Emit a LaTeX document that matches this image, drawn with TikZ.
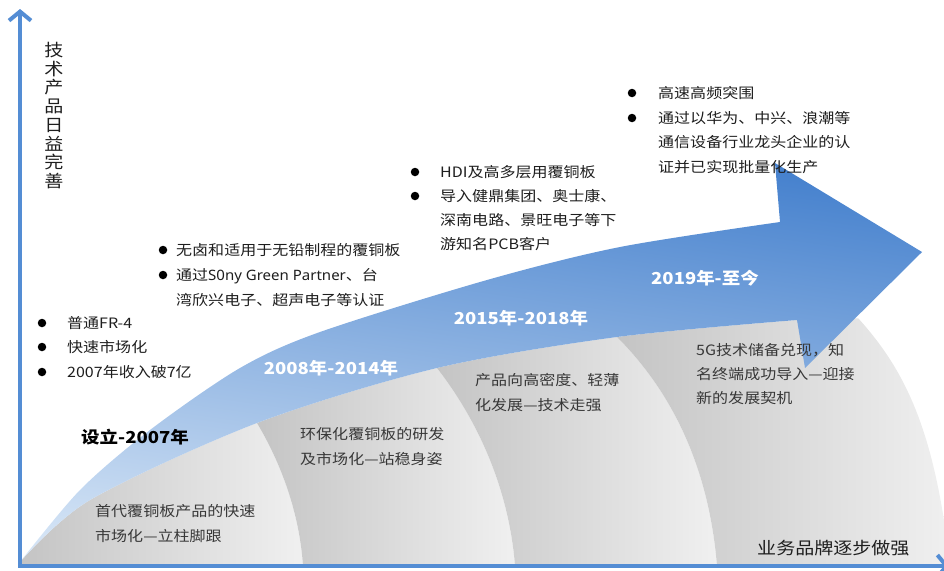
\documentclass[tikz,border=0pt]{standalone}
\usepackage{fontspec}
\setmainfont{Noto Sans CJK SC}[FakeStretch=1.12]
\newfontfamily\latinfont{Noto Sans}[FakeStretch=1.05]
\usetikzlibrary{arrows.meta}
\definecolor{axisblue}{HTML}{548DD4}
\definecolor{bluedark}{HTML}{4782CE}
\definecolor{bluemid}{HTML}{7DA7DE}
\definecolor{bluelight}{HTML}{D3E3F5}
\definecolor{graydark}{HTML}{C4C4C4}
\definecolor{graylight}{HTML}{F0F0F0}
\definecolor{txt}{HTML}{1E1E1E}
\definecolor{txtgray}{HTML}{383838}
\tikzset{
  bul/.style={circle, fill=black, inner sep=0pt, minimum size=8.5pt},
  btext/.style={anchor=west, inner sep=0pt, font=\fontsize{14.3}{16}\selectfont, text=txt, text height=12.5pt, text depth=2pt},
  rtext/.style={btext, text=txtgray},
  plabel/.style={inner sep=0pt, font=\fontsize{16.5}{18}\selectfont\bfseries, text=white},
  band/.style={left color=graydark, right color=graylight},
  bluearrow/.style={top color=bluedark, middle color=bluemid, bottom color=bluelight, shading angle=-8},
  axis/.style={draw=axisblue, line width=4pt, line join=miter,
    {Straight Barb[length=9pt,width=22pt]}-{Straight Barb[length=9pt,width=22pt]}},
  biglabel/.style={inner sep=0pt, font=\fontsize{17}{18.75}\selectfont, text=txt}
}
\begin{document}
\begin{tikzpicture}[x=1pt,y=-1pt]
\useasboundingbox (0,0) rectangle (944,570);
\clip (0,0) rectangle (944,570);

% gray bands
\begin{scope}
\clip plot[smooth] coordinates {(20,562) (90,500) (257,423) (437,368) (617,337) (797,320)} -- (870,318) -- (960,318) -- (960,566) -- (20,566) -- cycle;
\shade[band] (20,566) -- (20,300) -- (257,300) -- (257,423) .. controls (285,470) and (300,520) .. (303,566) -- cycle;
\shade[band] (303,566) .. controls (300,520) and (285,470) .. (257,423) -- (257,300) -- (437,300) -- (437,368) .. controls (485,430) and (510,500) .. (515,566) -- cycle;
\shade[band] (515,566) .. controls (510,500) and (485,430) .. (437,368) -- (437,300) -- (617,300) -- (617,337) .. controls (680,400) and (710,480) .. (717,566) -- cycle;
\shade[band] (717,566) .. controls (710,480) and (680,400) .. (617,337) -- (617,300) -- (858,300) -- (858,318) .. controls (905,370) and (935,430) .. (950,566) -- cycle;
\end{scope}

% blue curved arrow
\shade[bluearrow] plot[smooth] coordinates {(20,562) (80,490) (150,430) (240,368) (320,332) (487,280) (620,247) (780,222)}
  -- (775,163) -- (922,252) -- (805,368) -- (797,320)
  -- plot[smooth] coordinates {(797,320) (617,337) (437,368) (257,423) (90,500) (20,562)} -- cycle;

% axes
\coordinate (ytop) at (20,9);
\coordinate (origin) at (20,566);
\coordinate (xend) at (949,566);
\draw[axis] (ytop) -- (origin) -- (xend);

% axis labels
\node[biglabel, anchor=north, align=center] (ylab) at (54,42) {技\\术\\产\\品\\日\\益\\完\\善};
\node[biglabel, anchor=west] (xlab) at (757,548) {业务品牌逐步做强};

% group 1
\node[bul] (b11) at (42,323) {};
\node[btext] (t11) at (67,323) {普通FR-4};
\node[bul] (b12) at (42,347) {};
\node[btext] (t12) at (67,347) {快速市场化};
\node[bul] (b13) at (42,372) {};
\node[btext] (t13) at (67,372) {2007年收入破7亿};

% group 2
\node[bul] (b21) at (163,250) {};
\node[btext] (t21) at (176,250) {无卤和适用于无铅制程的覆铜板};
\node[bul] (b22) at (163,275) {};
\node[btext] (t22) at (176,275) {通过{\latinfont S0ny Green Partner}、台};
\node[btext] (t23) at (176,300) {湾欣兴电子、超声电子等认证};

% group 3
\node[bul] (b31) at (415,172) {};
\node[btext] (t31) at (440,172) {HDI及高多层用覆铜板};
\node[bul] (b32) at (415,196) {};
\node[btext] (t32) at (440,196) {导入健鼎集团、奥士康、};
\node[btext] (t33) at (440,220) {深南电路、景旺电子等下};
\node[btext] (t34) at (440,244) {游知名PCB客户};

% group 4
\node[bul] (b41) at (632,93) {};
\node[btext] (t41) at (658,93) {高速高频突围};
\node[bul] (b42) at (632,118) {};
\node[btext] (t42) at (658,118) {通过以华为、中兴、浪潮等};
\node[btext] (t43) at (658,142) {通信设备行业龙头企业的认};
\node[btext] (t44) at (658,167) {证并已实现批量化生产};

% region texts
\node[rtext] (r11) at (95,511) {首代覆铜板产品的快速};
\node[rtext] (r12) at (95,536) {市场化—立柱脚跟};
\node[rtext] (r21) at (300,434) {环保化覆铜板的研发};
\node[rtext] (r22) at (300,459) {及市场化—站稳身姿};
\node[rtext] (r31) at (475,380) {产品向高密度、轻薄};
\node[rtext] (r32) at (475,405) {化发展—技术走强};
\node[rtext] (r41) at (696,350) {5G技术储备兑现，知};
\node[rtext] (r42) at (696,374) {名终端成功导入—迎接};
\node[rtext] (r43) at (696,398) {新的发展契机};

% period labels
\node[plabel, text=black] (p1) at (135,437) {设立-2007年};
\node[plabel] (p2) at (331,368) {2008年-2014年};
\node[plabel] (p3) at (521,318) {2015年-2018年};
\node[plabel] (p4) at (705,278) {2019年-至今};
\end{tikzpicture}
\end{document}
